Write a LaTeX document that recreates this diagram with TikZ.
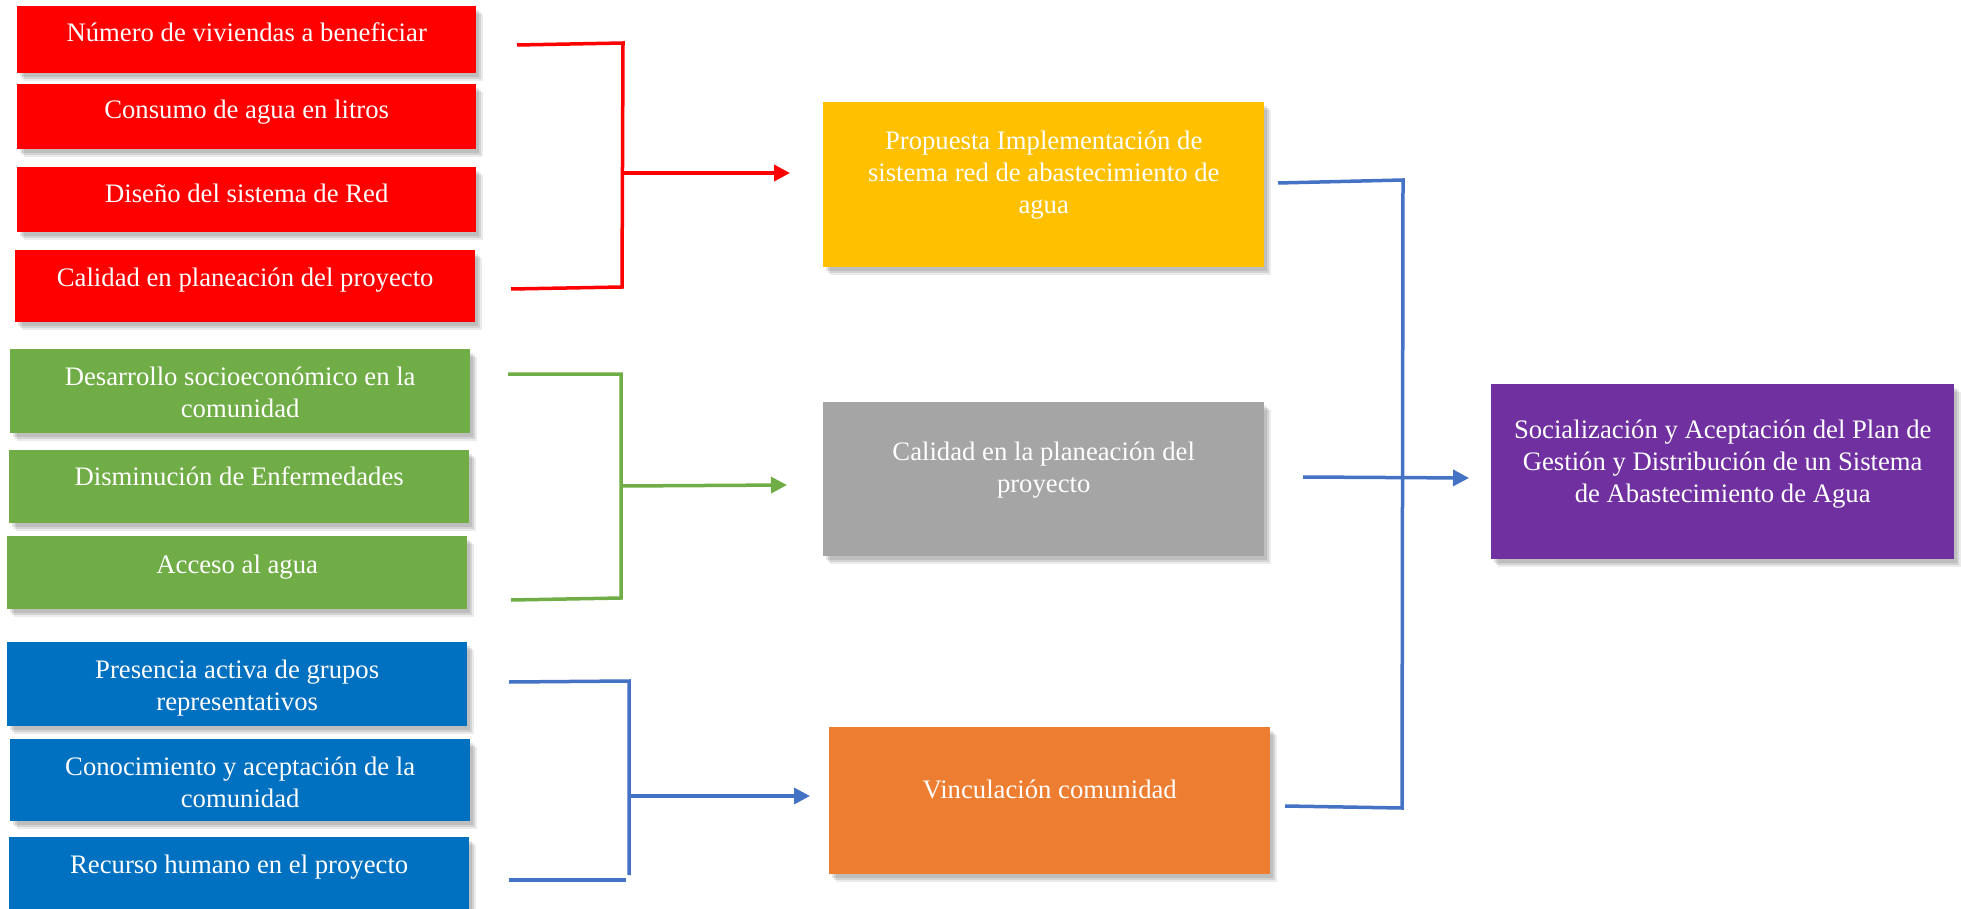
\documentclass[tikz,border=0pt]{standalone}
\usepackage{fontspec}
\setmainfont{Liberation Serif}
\usetikzlibrary{arrows.meta,shadows,calc}

\definecolor{cRed}{HTML}{FF0000}
\definecolor{cGreen}{HTML}{70AD47}
\definecolor{cBlue}{HTML}{0070C0}
\definecolor{cYellow}{HTML}{FFC000}
\definecolor{cGray}{HTML}{A5A5A5}
\definecolor{cOrange}{HTML}{ED7D31}
\definecolor{cPurple}{HTML}{7030A0}
\definecolor{cLink}{HTML}{4472C4}

\tikzset{
  softshadow/.style={
    general shadow={fill=black, opacity=0.10, shadow xshift=3pt, shadow yshift=-4pt},
    general shadow={fill=black, opacity=0.10, shadow xshift=5pt, shadow yshift=-6pt},
    general shadow={fill=black, opacity=0.08, shadow xshift=7pt, shadow yshift=-8pt}},
  panel/.style={rectangle, draw=none, inner sep=0pt, anchor=north west, softshadow},
  % text is anchored at the baseline of its last line
  txt/.style={text=white, font=\fontsize{26.7}{32}\selectfont, align=center, inner sep=0pt, anchor=base},
  wire/.style={line width=3.5pt, line cap=butt, line join=miter},
  tip/.style={-{Triangle[length=16pt,width=16pt]}}
}

\begin{document}
\begin{tikzpicture}[x=1pt,y=-1pt]
\useasboundingbox (0,0) rectangle (1961,909);

% ---- first group: network design (red)
\node[panel, fill=cRed, minimum width=459, minimum height=67] (r1) at (17,6) {};
\node[panel, fill=cRed, minimum width=459, minimum height=65] (r2) at (17,84) {};
\node[panel, fill=cRed, minimum width=459, minimum height=65] (r3) at (17,167) {};
\node[panel, fill=cRed, minimum width=460, minimum height=72] (r4) at (15,250) {};
\node[txt] (r1t) at ($(r1.north)+(0,36)$) {Número de viviendas a beneficiar};
\node[txt] (r2t) at ($(r2.north)+(0,35)$) {Consumo de agua en litros};
\node[txt] (r3t) at ($(r3.north)+(0,36)$) {Diseño del sistema de Red};
\node[txt] (r4t) at ($(r4.north)+(0,37)$) {Calidad en planeación del proyecto};

% ---- second group: social benefits (green)
\node[panel, fill=cGreen, minimum width=460, minimum height=84] (g1) at (10,349) {};
\node[panel, fill=cGreen, minimum width=460, minimum height=73] (g2) at (9,450) {};
\node[panel, fill=cGreen, minimum width=460, minimum height=73] (g3) at (7,536) {};
\node[txt] (g1t) at ($(g1.north)+(0,68)$) {Desarrollo socioeconómico en la\\comunidad};
\node[txt] (g2t) at ($(g2.north)+(0,35)$) {Disminución de Enfermedades};
\node[txt] (g3t) at ($(g3.north)+(0,37)$) {Acceso al agua};

% ---- third group: community (blue)
\node[panel, fill=cBlue, minimum width=460, minimum height=84] (b1) at (7,642) {};
\node[panel, fill=cBlue, minimum width=460, minimum height=82] (b2) at (10,739) {};
\node[panel, fill=cBlue, minimum width=460, minimum height=80] (b3) at (9,837) {};
\node[txt] (b1t) at ($(b1.north)+(0,68)$) {Presencia activa de grupos\\representativos};
\node[txt] (b2t) at ($(b2.north)+(0,68)$) {Conocimiento y aceptación de la\\comunidad};
\node[txt] (b3t) at ($(b3.north)+(0,36)$) {Recurso humano en el proyecto};

% ---- intermediate results
\node[panel, fill=cYellow, minimum width=441, minimum height=165] (yel) at (823,102) {};
\node[panel, fill=cGray, minimum width=441, minimum height=154] (gry) at (823,402) {};
\node[panel, fill=cOrange, minimum width=441, minimum height=147] (org) at (829,727) {};
\node[txt] (yelt) at ($(yel.north)+(0,112)$) {Propuesta Implementación de\\sistema red de abastecimiento de\\agua};
\node[txt] (gryt) at ($(gry.north)+(0,90)$) {Calidad en la planeación del\\proyecto};
\node[txt] (orgt) at ($(org.north)+(0,71)$) {Vinculación comunidad};

% ---- final outcome
\node[panel, fill=cPurple, minimum width=463, minimum height=175] (pur) at (1491,384) {};
\node[txt] (purt) at ($(pur.north)+(0,118)$) {Socialización y Aceptación del Plan de\\Gestión y Distribución de un Sistema\\de Abastecimiento de Agua};

% ---- bracket points
\coordinate (ra) at (517,45);   \coordinate (rb) at (623,43);
\coordinate (rc) at (622,287);  \coordinate (rd) at (511,289);
\coordinate (rm) at (622,173);  \coordinate (rin) at (790,173);

\coordinate (ga) at (508,374);  \coordinate (gb) at (621,374);
\coordinate (gc) at (621,598);  \coordinate (gd) at (511,600);
\coordinate (gm) at (621,486);  \coordinate (gin) at (787,485);

\coordinate (ba) at (509,682);  \coordinate (bb) at (629,681);
\coordinate (bc) at (629,875);
\coordinate (bd) at (509,880);  \coordinate (be) at (626,880);
\coordinate (bm) at (629,796);  \coordinate (bin) at (810,796);

\coordinate (sa) at (1278,183); \coordinate (sb) at (1403,180);
\coordinate (sc) at (1402,808); \coordinate (sd) at (1285,806);
\coordinate (sm) at (1303,477); \coordinate (sin) at (1469,478);

% ---- connectors
\draw[wire, cRed] (ra) -- (rb) -- (rc) -- (rd);
\draw[wire, cRed, tip] (rm) -- (rin);

\draw[wire, cGreen] (ga) -- (gb) -- (gc) -- (gd);
\draw[wire, cGreen, tip] (gm) -- (gin);

\draw[wire, cLink] (ba) -- (bb) -- (bc);
\draw[wire, cLink] (bd) -- (be);
\draw[wire, cLink, tip] (bm) -- (bin);

\draw[wire, cLink] (sa) -- (sb) -- (sc) -- (sd);
\draw[wire, cLink, tip] (sm) -- (sin);
\end{tikzpicture}
\end{document}
